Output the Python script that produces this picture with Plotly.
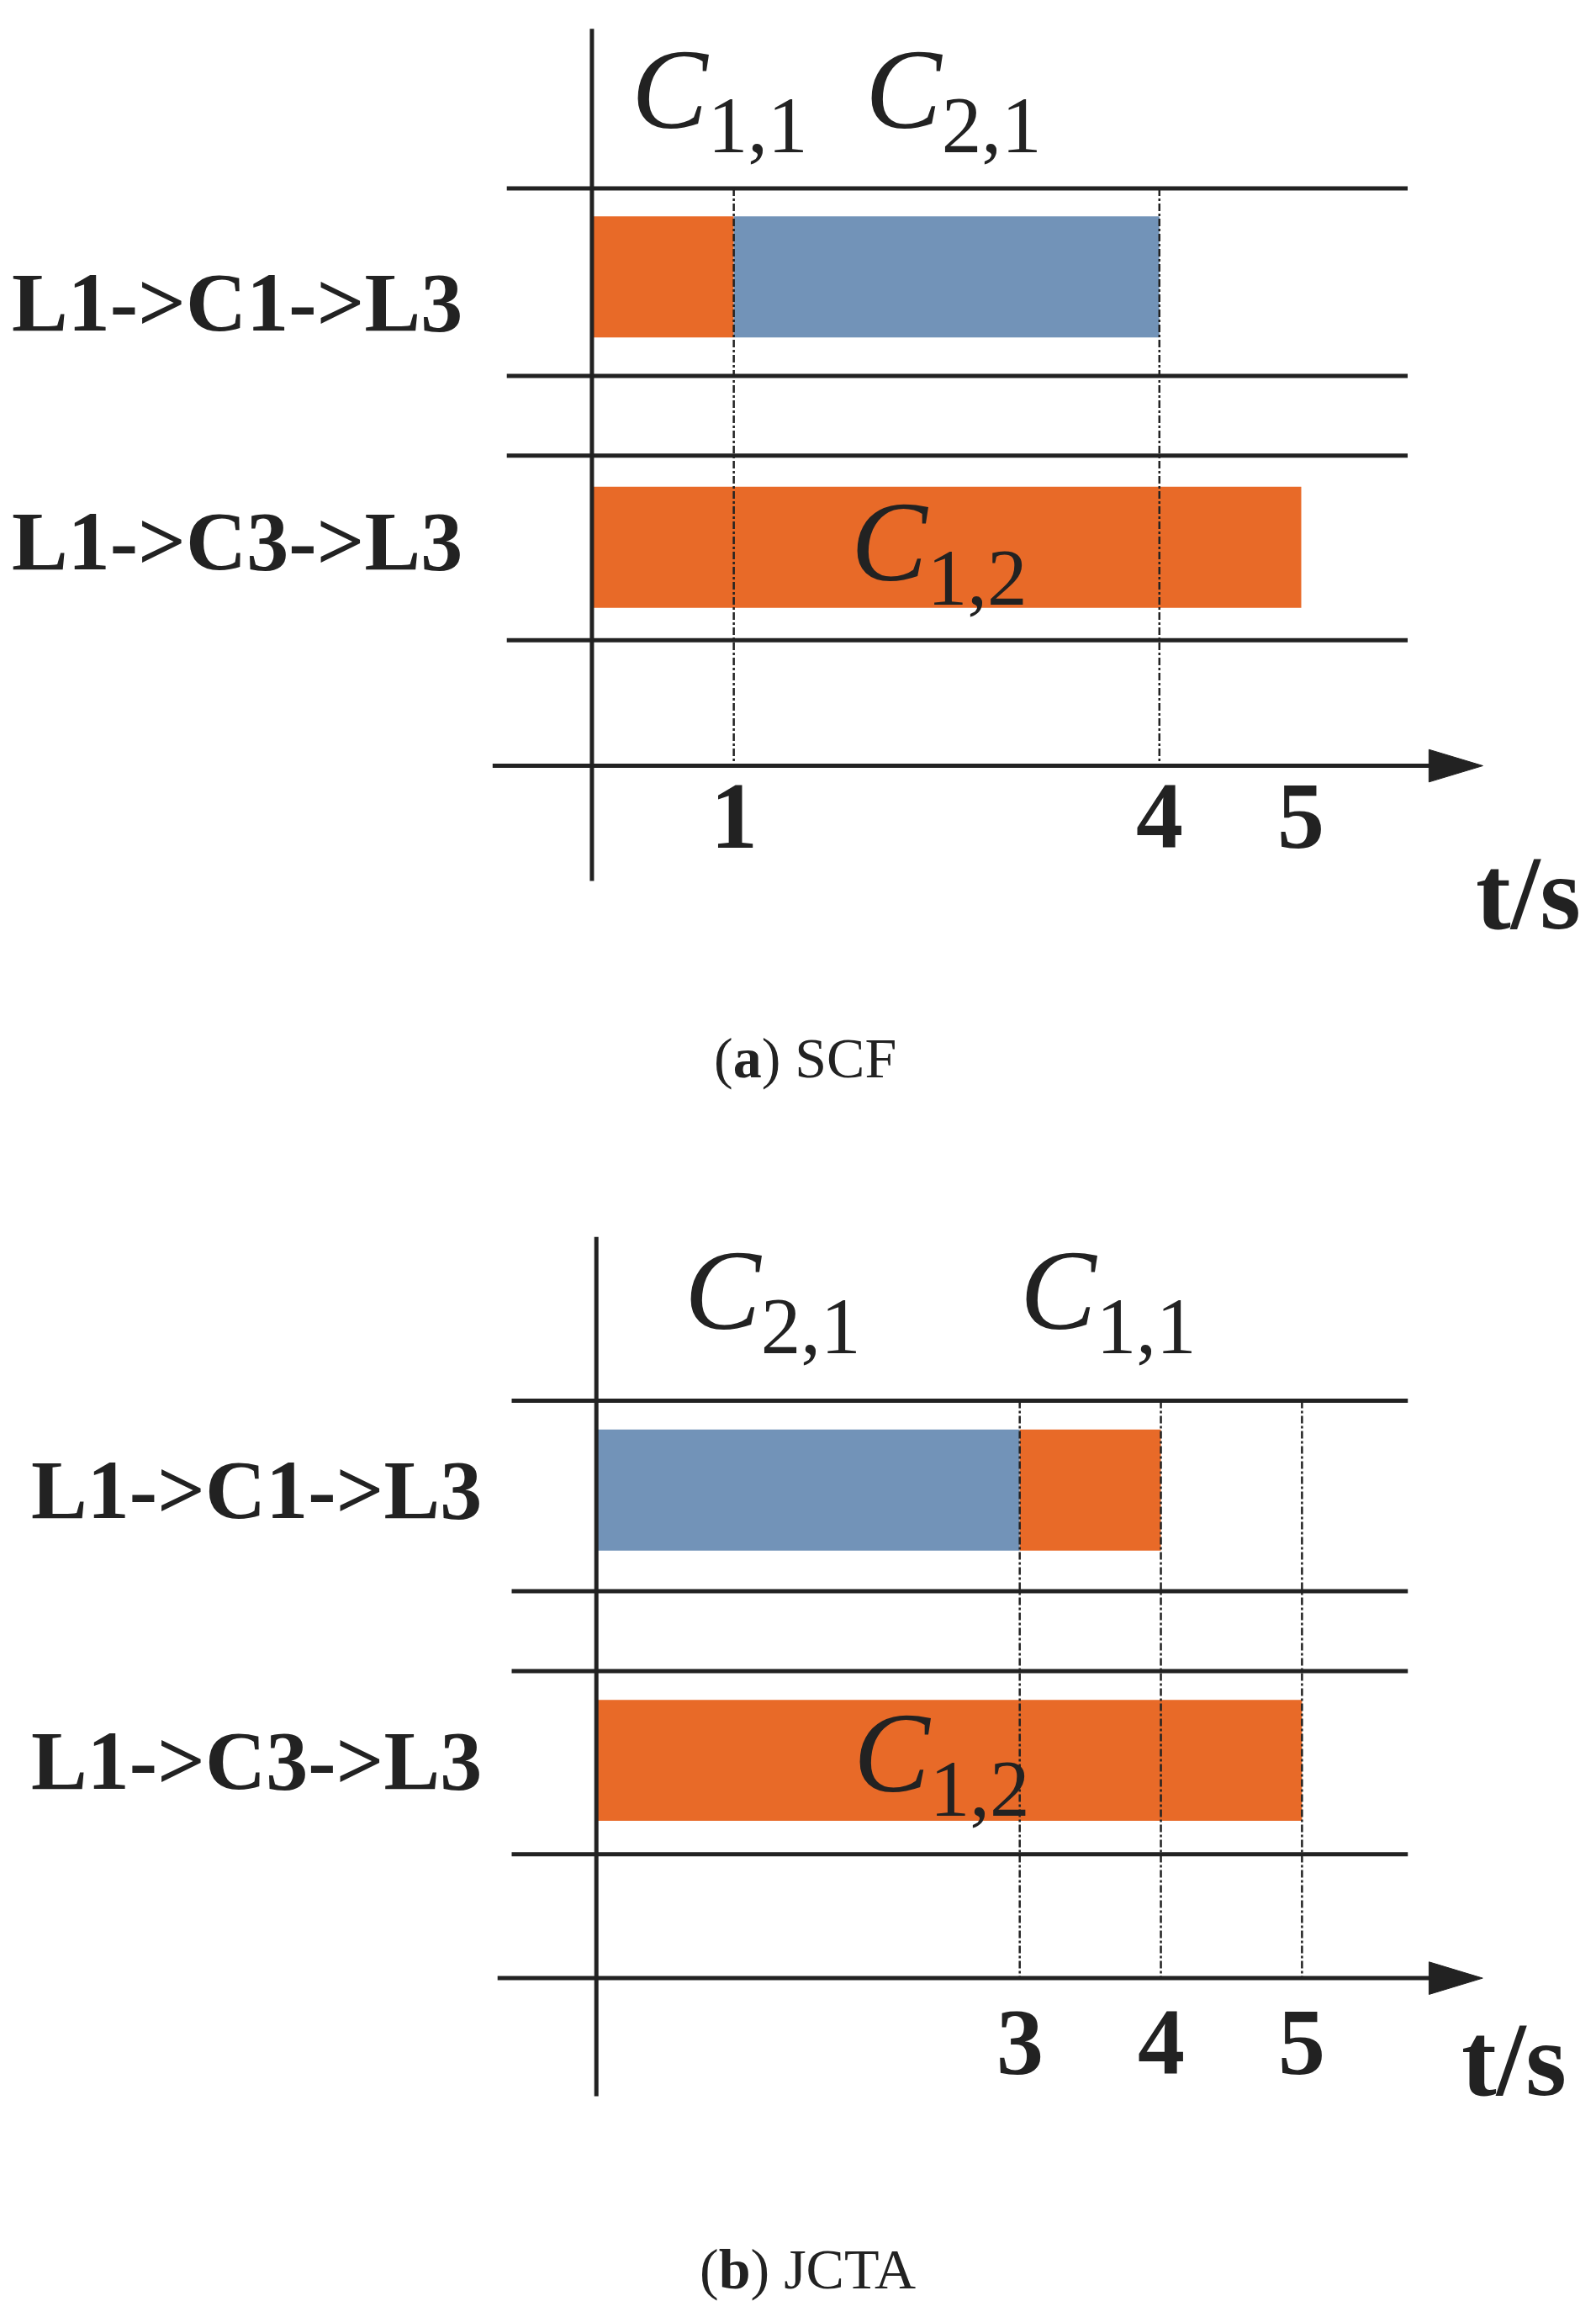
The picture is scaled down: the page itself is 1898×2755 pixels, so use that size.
import plotly.graph_objects as go

rows = ["L1->C1->L3", "L1->C3->L3"]
ORANGE = "#E86A28"; BLUE = "#7293B8"
# panel a (SCF)
a_start = [0, 1, 0]; a_end = [1, 4, 5]; a_row = [0, 0, 1]; a_col = [ORANGE, BLUE, ORANGE]
a_ticks = [1, 4, 5]
a_dash = [1, 4]
a_labels = [("<i>C</i><sub>1,1</sub>", 0.9, 62), ("<i>C</i><sub>2,1</sub>", 2.55, 62), ("<i>C</i><sub>1,2</sub>", 2.45, 368)]
# panel b (JCTA)
b_start = [0, 3, 0]; b_end = [3, 4, 5]; b_row = [0, 0, 1]; b_col = [BLUE, ORANGE, ORANGE]
b_ticks = [3, 4, 5]
b_dash = [3, 4, 5]
b_labels = [("<i>C</i><sub>2,1</sub>", 1.25, 875), ("<i>C</i><sub>1,1</sub>", 3.63, 875), ("<i>C</i><sub>1,2</sub>", 2.45, 1188)]

fig = go.Figure()
panels = [
    dict(x="x", start=a_start, end=a_end, row=a_row, col=a_col, ticks=a_ticks, dash=a_dash, labels=a_labels,
         rowy=[200, 362], lines=[123, 250, 304, 429], lx=(-0.6, 5.75), axy=514, vy=(15, 592),
         dash_top=123, cap="(<b>a</b>) SCF", capy=712, tsy=600, tsx=6.6, tky=548, ext=(-0.7, 5.95), lblx=-0.9),
    dict(x="x2", start=b_start, end=b_end, row=b_row, col=b_col, ticks=b_ticks, dash=b_dash, labels=b_labels,
         rowy=[1004.5, 1187.5], lines=[944, 1073, 1127, 1251], lx=(-0.6, 5.75), axy=1335, vy=(833, 1415),
         dash_top=944, cap="(<b>b</b>) JCTA", capy=1532, tsy=1390, tsx=6.5, tky=1378, ext=(-0.7, 5.95), lblx=-0.8),
]
shapes = []; ann = []
serif = "Liberation Serif"
for i, p in enumerate(panels):
    xr = p["x"]
    for s, e, r, c in zip(p["start"], p["end"], p["row"], p["col"]):
        fig.add_trace(go.Bar(x=[e - s], base=[s], y=[[183, 366][r] if i == 0 else p["rowy"][r]], orientation="h", width=82,
                             marker=dict(color=c, line=dict(width=0)), xaxis=xr, yaxis="y",
                             showlegend=False, hoverinfo="skip"))
    for ly in p["lines"]:
        shapes.append(dict(type="line", xref=xr, yref="y", x0=p["lx"][0], x1=p["lx"][1], y0=ly, y1=ly,
                           line=dict(color="#222", width=5)))
    shapes.append(dict(type="line", xref=xr, yref="y", x0=0, x1=0, y0=p["vy"][0], y1=p["vy"][1],
                       line=dict(color="#222", width=5)))
    shapes.append(dict(type="line", xref=xr, yref="y", x0=p["ext"][0], x1=p["ext"][1], y0=p["axy"], y1=p["axy"],
                       line=dict(color="#222", width=5)))
    shapes.append(dict(type="path", xref=xr, yref="y",
                       path=f"M {p['ext'][1]-0.05},{p['axy']-11} L {p['ext'][1]+0.33},{p['axy']} L {p['ext'][1]-0.05},{p['axy']+11} Z",
                       fillcolor="#222", line=dict(color="#222", width=1)))
    for t in p["dash"]:
        shapes.append(dict(type="line", xref=xr, yref="y", x0=t, x1=t, y0=p["dash_top"], y1=p["axy"],
                           line=dict(color="#222", width=2.5, dash="dashdot")))
    for t in p["ticks"]:
        ann.append(dict(xref=xr, yref="y", x=t, y=p["tky"], text=f"<b>{t}</b>", showarrow=False,
                        font=dict(family=serif, size=112, color="#222")))
    for j, r in enumerate(rows):
        ann.append(dict(xref=xr, yref="y", x=p["lblx"], y=p["rowy"][j], text=f"<b>{r}</b>", showarrow=False,
                        xanchor="right", font=dict(family=serif, size=100, color="#222")))
    for txt, x, y in p["labels"]:
        ann.append(dict(xref=xr, yref="y", x=x, y=y, text=txt, showarrow=False,
                        font=dict(family=serif, size=136, color="#222")))
    ann.append(dict(xref=xr, yref="y", x=p["tsx"], y=p["tsy"], text="<b>t/s</b>", showarrow=False,
                    font=dict(family=serif, size=125, color="#222")))
    ann.append(dict(xref=xr, yref="y", x=1.5, y=p["capy"], text=p["cap"], showarrow=False,
                    font=dict(family=serif, size=68, color="#222")))

fig.update_layout(
    width=1898, height=2755, margin=dict(l=0, r=0, t=0, b=0), barmode="overlay",
    plot_bgcolor="white", paper_bgcolor="white", shapes=shapes, annotations=ann,
    xaxis=dict(range=[-396/96, (1080-396)/96], visible=False, domain=[0, 1]),
    xaxis2=dict(range=[-399/95.5, (1080-399)/95.5], visible=False, overlaying="x", anchor="y"),
    yaxis=dict(range=[1569, 0], visible=False, domain=[0, 1]),
)
fig.write_html("out.html")
